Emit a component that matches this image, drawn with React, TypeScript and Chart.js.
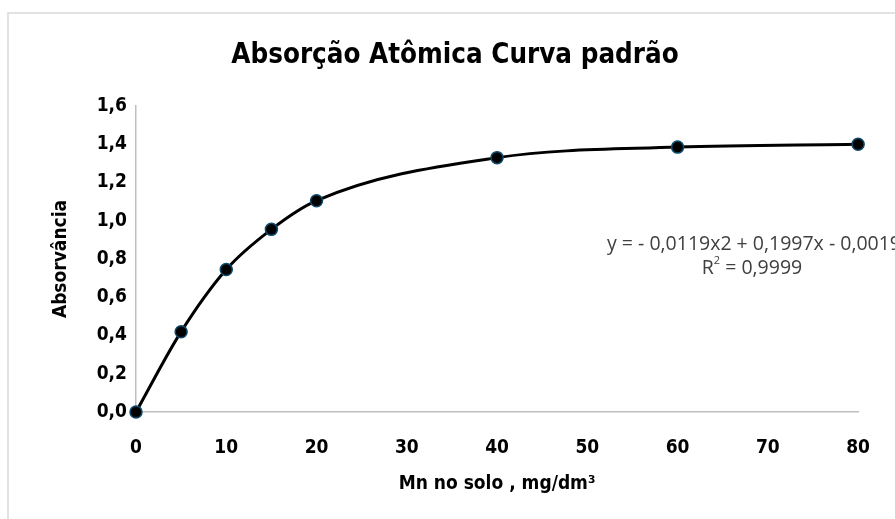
import React, { useEffect, useRef } from "react";
import { Chart, registerables } from "chart.js";

Chart.register(...registerables);

const concentrations = [0, 5, 10, 15, 20, 40, 60, 80];
const absorbances = [0, 0.42, 0.745, 0.955, 1.105, 1.33, 1.385, 1.4];
const xTicks = [0, 10, 20, 30, 40, 50, 60, 70, 80];
const equationText = "y = - 0,0119x2 + 0,1997x - 0,0019";
const r2Value = "0,9999";
const chartTitle = "Absorção Atômica Curva padrão";
const xTitle = "Mn no solo , mg/dm³";
const yTitle = "Absorvância";

const NARROW = "'Liberation Sans Narrow', 'DejaVu Sans', sans-serif";
const BOLDC = "bold condensed";
const REG = "'Open Sans', 'Lato', sans-serif";

export default function App() {
  const ref = useRef<HTMLCanvasElement | null>(null);
  useEffect(() => {
    if (!ref.current) return;
    const borderPlugin = {
      id: "frame",
      beforeDraw(chart: any) {
        const ctx = chart.ctx;
        ctx.save();
        ctx.fillStyle = "#ffffff";
        ctx.fillRect(0, 0, chart.width, chart.height);
        ctx.strokeStyle = "#d9d9d9";
        ctx.lineWidth = 1.5;
        ctx.beginPath();
        ctx.moveTo(8, chart.height);
        ctx.lineTo(8, 13);
        ctx.lineTo(chart.width, 13);
        ctx.stroke();
        ctx.restore();
      },
      afterDraw(chart: any) {
        const ctx = chart.ctx;
        const size = 19.5;
        ctx.save();
        ctx.fillStyle = "#404040";
        ctx.font = `${size}px ${REG}`;
        ctx.textBaseline = "middle";
        ctx.textAlign = "left";
        ctx.fillText(equationText, 607, 244);
        const cx = 752;
        const y2 = 268;
        const wR = ctx.measureText("R").width;
        const rest = " = " + r2Value;
        const wRest = ctx.measureText(rest).width;
        ctx.font = `11px ${REG}`;
        const wSup = ctx.measureText("2").width;
        const total = wR + wSup + wRest;
        let x = cx - total / 2;
        ctx.font = `${size}px ${REG}`;
        ctx.fillText("R", x, y2);
        x += wR;
        ctx.font = `11px ${REG}`;
        ctx.fillText("2", x, y2 - 7);
        x += wSup;
        ctx.font = `${size}px ${REG}`;
        ctx.fillText(rest, x, y2);
        ctx.restore();
      },
    };
    const chart = new Chart(ref.current, {
      type: "scatter",
      data: {
        datasets: [
          {
            data: concentrations.map((c, i) => ({ x: c, y: absorbances[i] })),
            showLine: true,
            cubicInterpolationMode: "monotone",
            borderColor: "#000000",
            borderWidth: 3,
            backgroundColor: "#000000",
            pointBackgroundColor: "#000000",
            pointBorderColor: "#0d4a6e",
            pointBorderWidth: 1.5,
            pointRadius: 6,
            clip: false as any,
          },
        ],
      },
      options: {
        animation: false,
        responsive: false,
        maintainAspectRatio: false,
        layout: { padding: { left: 44, right: 29, top: 13, bottom: 0 } },
        plugins: {
          legend: { display: false },
          tooltip: { enabled: false },
          title: {
            display: true,
            text: chartTitle,
            color: "#000000",
            font: { family: NARROW, size: 27.5, weight: BOLDC as any },
            padding: { top: 26, bottom: 34 },
          },
        },
        scales: {
          x: {
            type: "linear",
            min: 0,
            max: 80,
            afterFit(scale: any) {
              scale.height = 107;
            },
            afterBuildTicks(scale: any) {
              scale.ticks = xTicks.map((v) => ({ value: v }));
            },
            grid: { display: false, drawTicks: false },
            border: { display: true, color: "#bfbfbf", width: 1.5 },
            ticks: {
              color: "#000000",
              padding: 25,
              font: { family: NARROW, size: 19, weight: BOLDC as any },
            },
            title: {
              display: true,
              text: xTitle,
              color: "#000000",
              font: { family: NARROW, size: 19, weight: BOLDC as any },
              padding: { top: 0, bottom: 24 },
            },
          },
          y: {
            type: "linear",
            min: 0,
            max: 1.6,
            afterFit(scale: any) {
              scale.width = 92;
            },
            grid: { display: false, drawTicks: false },
            border: { display: true, color: "#bfbfbf", width: 1.5 },
            ticks: {
              stepSize: 0.2,
              color: "#000000",
              padding: 9,
              font: { family: NARROW, size: 19, weight: BOLDC as any },
              callback: (v: any) => Number(v).toFixed(1).replace(".", ","),
            },
            title: {
              display: true,
              text: yTitle,
              color: "#000000",
              font: { family: NARROW, size: 19, weight: BOLDC as any },
              padding: { top: 6, bottom: 0 },
            },
          },
        },
      },
      plugins: [borderPlugin],
    });
    return () => chart.destroy();
  }, []);
  return (
    <div style={{ position: "fixed", left: 0, top: 0, width: 895, height: 519 }}>
      <canvas ref={ref} width={895} height={519} style={{ width: 895, height: 519 }} />
    </div>
  );
}
